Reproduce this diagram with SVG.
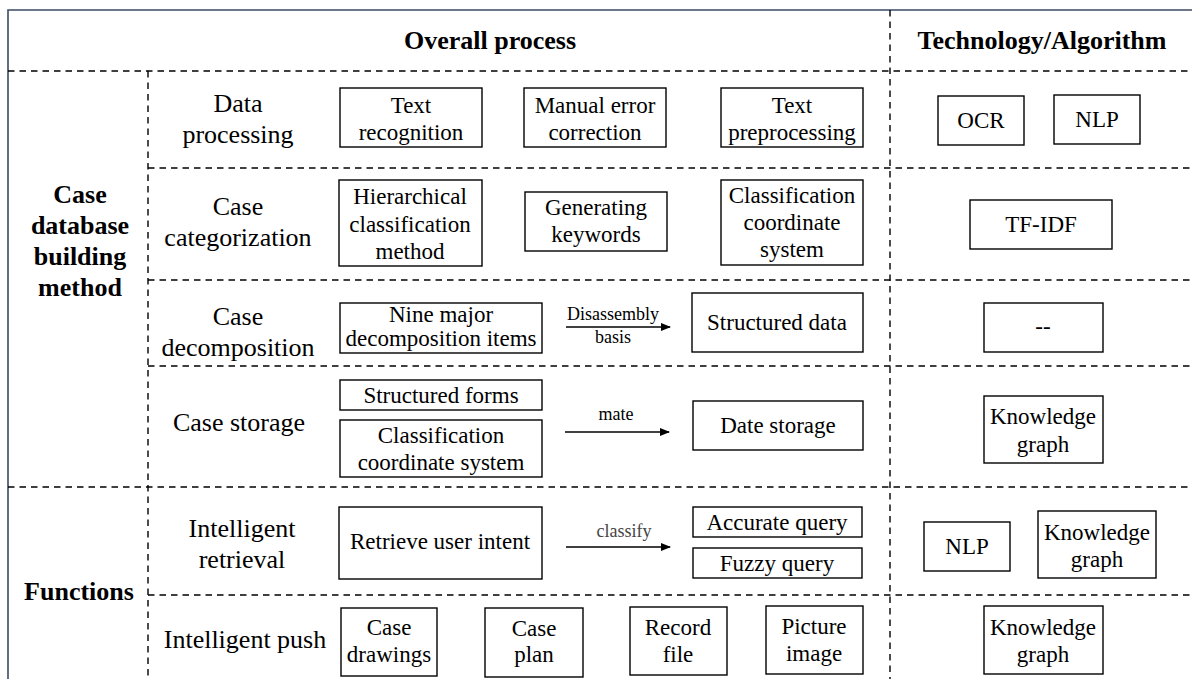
<svg xmlns="http://www.w3.org/2000/svg" width="1192" height="679" viewBox="0 0 1192 679" font-family="'Liberation Serif', Tinos, 'Times New Roman', Times, 'Noto Serif', 'DejaVu Serif', FreeSerif, serif">
  <style>
    text { fill: #000; text-anchor: middle; }
    .hd { font-size: 26px; font-weight: bold; }
    .lb { font-size: 26px; }
    .bx { font-size: 23px; }
    .ar { font-size: 18px; }
    .box { fill: #fff; stroke: #000; stroke-width: 1.4; }
    .dash { stroke: #000; stroke-width: 1.4; stroke-dasharray: 6.5 5; fill: none; }
    .frame { stroke: #3b4a66; stroke-width: 1.6; fill: none; }
    .arrow { stroke: #000; stroke-width: 1.4; fill: none; marker-end: url(#head); }
  </style>
  <defs>
    <marker id="head" viewBox="0 0 10 8" refX="9" refY="4" markerWidth="10" markerHeight="8" markerUnits="userSpaceOnUse" orient="auto">
      <path d="M0,0 L10,4 L0,8 Z" fill="#000"/>
    </marker>
  </defs>

  <rect width="1192" height="679" fill="#fff"/>

  <!-- outer frame -->
  <path class="frame" d="M8,700 L8,10 L1200,10"/>

  <!-- grid lines -->
  <g id="grid">
    <line class="dash" x1="8" y1="71" x2="1192" y2="71"/>
    <line class="dash" x1="148" y1="71" x2="148" y2="679"/>
    <line class="dash" x1="890" y1="10" x2="890" y2="679"/>
    <line class="dash" x1="148" y1="168" x2="1192" y2="168"/>
    <line class="dash" x1="148" y1="280" x2="1192" y2="280"/>
    <line class="dash" x1="148" y1="366" x2="1192" y2="366"/>
    <line class="dash" x1="8" y1="487" x2="1192" y2="487"/>
    <line class="dash" x1="148" y1="595" x2="1192" y2="595"/>
  </g>

  <!-- headers -->
  <g id="headers">
    <text class="hd" x="490" y="49">Overall process</text>
    <text class="hd" x="1042" y="49">Technology/Algorithm</text>
  </g>

  <g id="cat-building">
    <text class="hd" x="80" y="203">Case</text>
    <text class="hd" x="80" y="234">database</text>
    <text class="hd" x="80" y="265">building</text>
    <text class="hd" x="80" y="296">method</text>
  </g>
  <g id="cat-functions">
    <text class="hd" x="79" y="600">Functions</text>
  </g>

  <!-- row: data processing -->
  <g id="row-data-processing">
    <text class="lb" x="238" y="112">Data</text>
    <text class="lb" x="238" y="143">processing</text>
  </g>
  <g id="n-text-recognition">
    <rect class="box" x="340" y="88" width="142" height="59"/>
    <text class="bx" x="411" y="113">Text</text>
    <text class="bx" x="411" y="140">recognition</text>
  </g>
  <g id="n-manual-error">
    <rect class="box" x="524" y="88" width="142" height="59"/>
    <text class="bx" x="595" y="113">Manual error</text>
    <text class="bx" x="595" y="140">correction</text>
  </g>
  <g id="n-text-preprocessing">
    <rect class="box" x="721" y="88" width="142" height="59"/>
    <text class="bx" x="792" y="113">Text</text>
    <text class="bx" x="792" y="140">preprocessing</text>
  </g>
  <g id="t-ocr">
    <rect class="box" x="938" y="96" width="86" height="49"/>
    <text class="bx" x="981" y="128">OCR</text>
  </g>
  <g id="t-nlp-1">
    <rect class="box" x="1054" y="95" width="86" height="49"/>
    <text class="bx" x="1097" y="127">NLP</text>
  </g>

  <!-- row: categorization -->
  <g id="row-categorization">
    <text class="lb" x="238" y="215">Case</text>
    <text class="lb" x="238" y="246">categorization</text>
  </g>
  <g id="n-hierarchical">
    <rect class="box" x="339" y="180" width="143" height="86"/>
    <text class="bx" x="410" y="204">Hierarchical</text>
    <text class="bx" x="410" y="232">classification</text>
    <text class="bx" x="410" y="259">method</text>
  </g>
  <g id="n-keywords">
    <rect class="box" x="525" y="192" width="142" height="59"/>
    <text class="bx" x="596" y="215">Generating</text>
    <text class="bx" x="596" y="242">keywords</text>
  </g>
  <g id="n-coordinate">
    <rect class="box" x="721" y="180" width="142" height="85"/>
    <text class="bx" x="792" y="203">Classification</text>
    <text class="bx" x="792" y="230">coordinate</text>
    <text class="bx" x="792" y="257">system</text>
  </g>
  <g id="t-tfidf">
    <rect class="box" x="970" y="200" width="142" height="49"/>
    <text class="bx" x="1041" y="232">TF-IDF</text>
  </g>

  <!-- row: decomposition -->
  <g id="row-decomposition">
    <text class="lb" x="238" y="325">Case</text>
    <text class="lb" x="238" y="356">decomposition</text>
  </g>
  <g id="n-nine-items">
    <rect class="box" x="340" y="303" width="202" height="50"/>
    <text class="bx" x="441" y="322">Nine major</text>
    <text class="bx" x="441" y="346">decomposition items</text>
  </g>
  <g id="n-structured-data">
    <rect class="box" x="692" y="293" width="171" height="59"/>
    <text class="bx" x="777" y="330">Structured data</text>
  </g>
  <g id="t-none">
    <rect class="box" x="984" y="303" width="119" height="49"/>
    <text class="bx" x="1043" y="334">--</text>
  </g>

  <!-- row: storage -->
  <g id="row-storage">
    <text class="lb" x="239" y="431">Case storage</text>
  </g>
  <g id="n-structured-forms">
    <rect class="box" x="340" y="380" width="202" height="30"/>
    <text class="bx" x="441" y="403">Structured forms</text>
  </g>
  <g id="n-coordinate-2">
    <rect class="box" x="340" y="420" width="202" height="57"/>
    <text class="bx" x="441" y="443">Classification</text>
    <text class="bx" x="441" y="470">coordinate system</text>
  </g>
  <g id="n-date-storage">
    <rect class="box" x="693" y="401" width="170" height="49"/>
    <text class="bx" x="778" y="433">Date storage</text>
  </g>
  <g id="t-kg-1">
    <rect class="box" x="984" y="396" width="119" height="67"/>
    <text class="bx" x="1043" y="424">Knowledge</text>
    <text class="bx" x="1043" y="452">graph</text>
  </g>

  <!-- row: intelligent retrieval -->
  <g id="row-retrieval">
    <text class="lb" x="242" y="537">Intelligent</text>
    <text class="lb" x="242" y="568">retrieval</text>
  </g>
  <g id="n-user-intent">
    <rect class="box" x="339" y="507" width="203" height="72"/>
    <text class="bx" x="440" y="549">Retrieve user intent</text>
  </g>
  <g id="n-accurate">
    <rect class="box" x="693" y="507" width="169" height="30"/>
    <text class="bx" x="777" y="530">Accurate query</text>
  </g>
  <g id="n-fuzzy">
    <rect class="box" x="693" y="548" width="169" height="30"/>
    <text class="bx" x="777" y="571">Fuzzy query</text>
  </g>
  <g id="t-nlp-2">
    <rect class="box" x="924" y="522" width="86" height="49"/>
    <text class="bx" x="967" y="554">NLP</text>
  </g>
  <g id="t-kg-2">
    <rect class="box" x="1038" y="511" width="118" height="67"/>
    <text class="bx" x="1097" y="540">Knowledge</text>
    <text class="bx" x="1097" y="567">graph</text>
  </g>

  <!-- row: intelligent push -->
  <g id="row-push">
    <text class="lb" x="245" y="648">Intelligent push</text>
  </g>
  <g id="n-drawings">
    <rect class="box" x="341" y="608" width="96" height="68"/>
    <text class="bx" x="389" y="635">Case</text>
    <text class="bx" x="389" y="662">drawings</text>
  </g>
  <g id="n-plan">
    <rect class="box" x="485" y="608" width="98" height="69"/>
    <text class="bx" x="534" y="636">Case</text>
    <text class="bx" x="534" y="662">plan</text>
  </g>
  <g id="n-record">
    <rect class="box" x="630" y="607" width="97" height="68"/>
    <text class="bx" x="678" y="635">Record</text>
    <text class="bx" x="678" y="662">file</text>
  </g>
  <g id="n-picture">
    <rect class="box" x="766" y="606" width="97" height="68"/>
    <text class="bx" x="814" y="634">Picture</text>
    <text class="bx" x="814" y="661">image</text>
  </g>
  <g id="t-kg-3">
    <rect class="box" x="984" y="606" width="119" height="68"/>
    <text class="bx" x="1043" y="635">Knowledge</text>
    <text class="bx" x="1043" y="662">graph</text>
  </g>

  <!-- connectors -->
  <g id="connectors">
    <line class="arrow" x1="566" y1="327" x2="670" y2="327"/>
    <text class="ar" x="613" y="320">Disassembly</text>
    <text class="ar" x="613" y="343">basis</text>
    <line class="arrow" x1="565" y1="432" x2="669" y2="432"/>
    <text class="ar" x="616" y="420">mate</text>
    <line class="arrow" x1="566" y1="547" x2="670" y2="547"/>
    <text class="ar" x="624" y="537" style="fill:#444">classify</text>
  </g>
</svg>
